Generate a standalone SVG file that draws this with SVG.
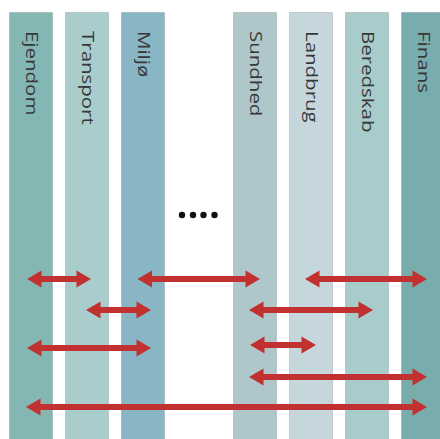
<svg xmlns="http://www.w3.org/2000/svg" width="440" height="439" viewBox="0 0 440 439">
<style>
.col{stroke:#000;stroke-opacity:0.13;stroke-width:1}
.lbl{font-family:"Open Sans","Noto Sans",sans-serif;font-size:16px;fill:#383838}
.arr{stroke:#c0312f;stroke-width:6;fill:none;marker-start:url(#ah);marker-end:url(#ah)}
</style>
<defs>
<marker id="ah" markerUnits="userSpaceOnUse" markerWidth="20" markerHeight="20" refX="2.5" refY="0" orient="auto-start-reverse" overflow="visible">
<path d="M0,-8.5 L14.5,0 L0,8.5 z" fill="#c0312f"/>
</marker>
</defs>
<rect width="440" height="439" fill="#fff"/>
<g id="ejendom"><rect class="col" x="9.5" y="12.5" width="43" height="430" fill="#84b7b3"/><text class="lbl" transform="translate(25.5,31) rotate(90) scale(1.28,1)">Ejendom</text></g>
<g id="transport"><rect class="col" x="65.5" y="12.5" width="43" height="430" fill="#a9cdcc"/><text class="lbl" transform="translate(82,31) rotate(90) scale(1.28,1)">Transport</text></g>
<g id="miljo"><rect class="col" x="121.5" y="12.5" width="43" height="430" fill="#89b6c5"/><text class="lbl" transform="translate(137.5,31) rotate(90) scale(1.28,1)">Miljø</text></g>
<g id="sundhed"><rect class="col" x="233.5" y="12.5" width="43" height="430" fill="#afc6cb"/><text class="lbl" transform="translate(249.5,31) rotate(90) scale(1.28,1)">Sundhed</text></g>
<g id="landbrug"><rect class="col" x="289.5" y="12.5" width="43" height="430" fill="#c6d6dd"/><text class="lbl" transform="translate(305.5,31) rotate(90) scale(1.28,1)">Landbrug</text></g>
<g id="beredskab"><rect class="col" x="345.5" y="12.5" width="43" height="430" fill="#a8cccb"/><text class="lbl" transform="translate(361.5,31) rotate(90) scale(1.28,1)">Beredskab</text></g>
<g id="finans"><rect class="col" x="401.5" y="12.5" width="43" height="430" fill="#78acad"/><text class="lbl" transform="translate(418,31) rotate(90) scale(1.28,1)">Finans</text></g>
<g id="dots" fill="#111"><circle cx="182" cy="215" r="3.2"/><circle cx="193" cy="215" r="3.2"/><circle cx="203.5" cy="215" r="3.2"/><circle cx="214.5" cy="215" r="3.2"/></g>
<g id="connectors">
<line class="arr" x1="39" y1="279" x2="79" y2="279"/>
<line class="arr" x1="149.5" y1="279" x2="248" y2="279"/>
<line class="arr" x1="317" y1="279" x2="415" y2="279"/>
<line class="arr" x1="98" y1="310" x2="139" y2="310"/>
<line class="arr" x1="261" y1="310" x2="361" y2="310"/>
<line class="arr" x1="39" y1="348" x2="139" y2="348"/>
<line class="arr" x1="262" y1="345" x2="304" y2="345"/>
<line class="arr" x1="261" y1="377" x2="415" y2="377"/>
<line class="arr" x1="38" y1="407" x2="415" y2="407"/>
</g>
</svg>
